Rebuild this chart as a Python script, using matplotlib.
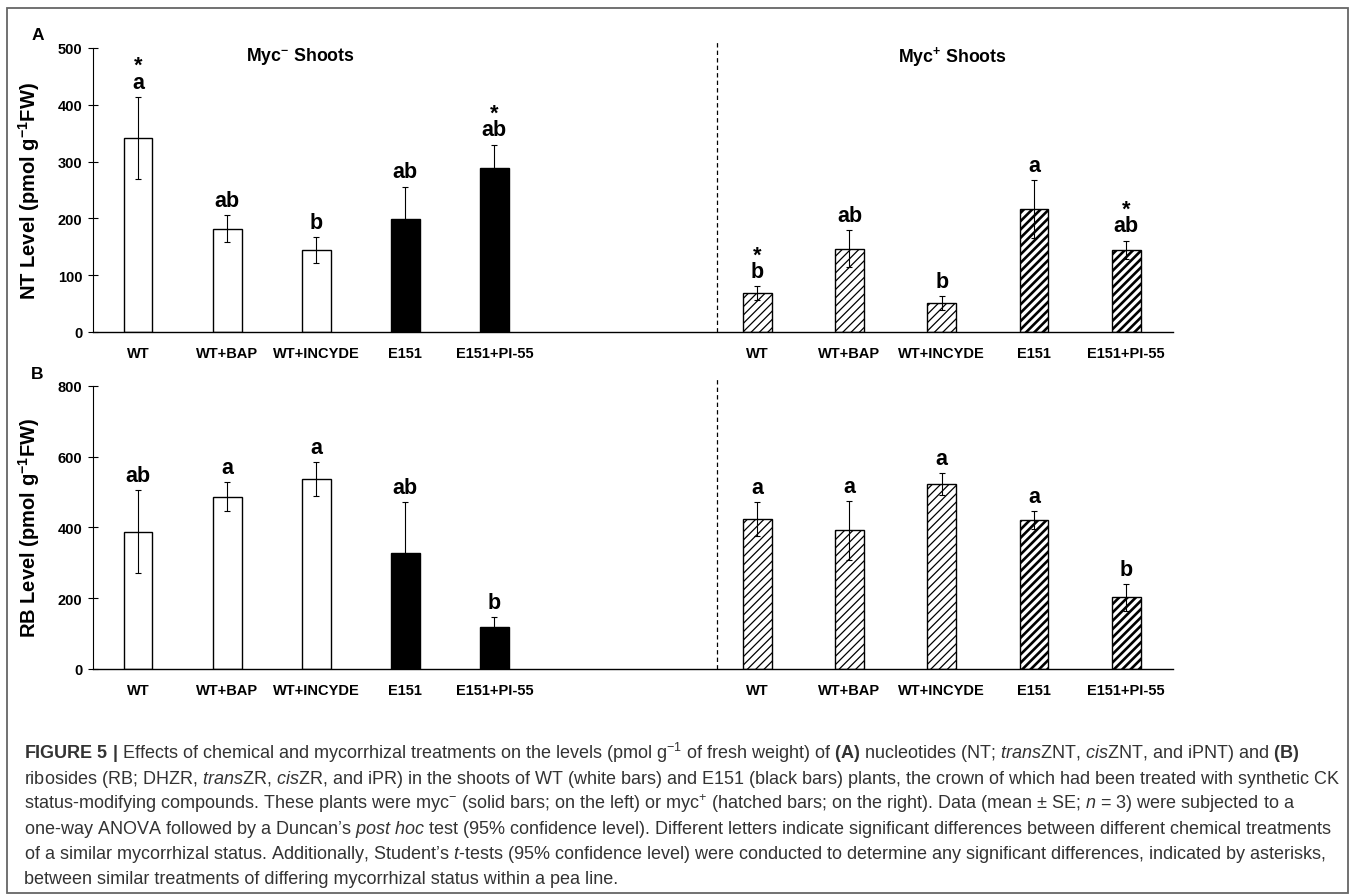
import numpy as np
import matplotlib
import matplotlib.pyplot as plt
from matplotlib.patches import Rectangle

plt.rcParams['font.family'] = ['Liberation Sans', 'DejaVu Sans']
plt.rcParams['mathtext.fontset'] = 'custom'
plt.rcParams['mathtext.rm'] = 'Liberation Sans'
plt.rcParams['mathtext.it'] = 'Liberation Sans:italic'
plt.rcParams['mathtext.bf'] = 'Liberation Sans:bold'

treatments = ["WT", "WT+BAP", "WT+INCYDE", "E151", "E151+PI-55"]

# NT level, myc- (left) and myc+ (right)
nt_minus = [342, 182, 144, 199, 288]
nt_minus_se = [72, 24, 23, 57, 42]
nt_plus = [69, 147, 51, 216, 145]
nt_plus_se = [12, 33, 12, 51, 16]
nt_minus_letters = ["a", "ab", "b", "ab", "ab"]
nt_plus_letters = ["b", "ab", "b", "a", "ab"]
nt_minus_star = [True, False, False, False, True]
nt_plus_star = [True, False, False, False, True]

# RB level
rb_minus = [388, 486, 537, 327, 120]
rb_minus_se = [118, 41, 48, 145, 27]
rb_plus = [423, 392, 523, 421, 202]
rb_plus_se = [48, 83, 31, 25, 38]
rb_minus_letters = ["ab", "a", "a", "ab", "b"]
rb_plus_letters = ["a", "a", "a", "a", "b"]

W, H = 1355, 895
fig = plt.figure(figsize=(W / 100, H / 100), dpi=100)

x_left = np.arange(5) * 0.99
x_right = 6.88 + np.arange(5) * 1.025
x_div = 6.43
bw = 0.32


def add_ax(top_px, bot_px):
    return fig.add_axes([93 / W, 1 - bot_px / H, 1080 / W, (bot_px - top_px) / H])


def draw_panel(ax, lo, lo_se, hi, hi_se, lo_let, hi_let, lo_star, hi_star, ymax, step, ylabel):
    # myc- bars: white for WT, black for E151
    lo_colors = ["white", "white", "white", "black", "black"]
    ax.bar(x_left, lo, bw, color=lo_colors, edgecolor="black", linewidth=1.0, zorder=2)
    hb = ax.bar(x_right, hi, bw, color="white", edgecolor="black", linewidth=1.0,
                hatch="////", zorder=2)
    for i, p in enumerate(hb.patches):
        if hasattr(p, "set_hatch_linewidth"):
            p.set_hatch_linewidth(0.9 if i < 3 else 1.9)
    ax.errorbar(x_left, lo, yerr=lo_se, fmt="none", ecolor="black", elinewidth=0.8,
                capsize=2.5, capthick=0.8, zorder=3)
    ax.errorbar(x_right, hi, yerr=hi_se, fmt="none", ecolor="black", elinewidth=0.8,
                capsize=2.5, capthick=0.8, zorder=3)

    # significance letters, with an asterisk stacked above where marked
    for xs, vals, ses, lets, stars in [(x_left, lo, lo_se, lo_let, lo_star),
                                       (x_right, hi, hi_se, hi_let, hi_star)]:
        for x, v, s, l, st in zip(xs, vals, ses, lets, stars):
            txt = "*\n" + l if st else l
            ax.annotate(txt, (x, v + s), xytext=(0, 3), textcoords="offset points",
                        ha="center", va="bottom", fontsize=15.5, fontweight="bold",
                        linespacing=0.72, multialignment="center")

    ax.axvline(x_div, ymin=0, ymax=1.025, color="black", linewidth=0.9,
               linestyle=(0, (3.5, 2.5)), clip_on=False)

    ax.set_xlim(-0.5, 11.5)
    ax.set_ylim(0, ymax)
    ax.set_yticks(np.arange(0, ymax + 1, step))
    ax.set_xticks(np.concatenate([x_left, x_right]))
    ax.set_xticklabels(treatments * 2)
    for sp in ["top", "right"]:
        ax.spines[sp].set_visible(False)
    ax.spines["left"].set_linewidth(0.8)
    ax.spines["bottom"].set_linewidth(1.0)
    ax.tick_params(axis="x", length=0, pad=10)
    ax.tick_params(axis="y", direction="inout", length=6.5, width=0.8, pad=4.5)
    for t in ax.get_xticklabels() + ax.get_yticklabels():
        t.set_fontweight("bold")
        t.set_fontsize(10.5)
    ax.set_ylabel(ylabel, fontsize=14.5, fontweight="bold")
    ax.yaxis.set_label_coords(-0.047, 0.5)


ax1 = add_ax(49, 333)
draw_panel(ax1, nt_minus, nt_minus_se, nt_plus, nt_plus_se, nt_minus_letters, nt_plus_letters,
           nt_minus_star, nt_plus_star, 500, 100, r"NT Level (pmol g$^{\mathbf{-1}}$FW)")

ax2 = add_ax(386.7, 670)
draw_panel(ax2, rb_minus, rb_minus_se, rb_plus, rb_plus_se, rb_minus_letters, rb_plus_letters,
           [False] * 5, [False] * 5, 800, 200, r"RB Level (pmol g$^{\mathbf{-1}}$FW)")

fig.text(300 / W, 1 - 61 / H, r"Myc$^{\mathbf{-}}$ Shoots", ha="center", va="baseline",
         fontsize=12.8, fontweight="bold")
fig.text(952 / W, 1 - 62 / H, r"Myc$^{\mathbf{+}}$ Shoots", ha="center", va="baseline",
         fontsize=12.8, fontweight="bold")
fig.text(37.5 / W, 1 - 36 / H, "A", ha="center", va="center", fontsize=12.5,
         fontweight="bold")
fig.text(37.5 / W, 1 - 375 / H, "B", ha="center", va="center", fontsize=12.5,
         fontweight="bold")

caption = [
    r"$\mathbf{FIGURE\ 5\ |}$ Effects of chemical and mycorrhizal treatments on the levels (pmol g$^{-1}$ of fresh weight) of $\mathbf{(A)}$ nucleotides (NT; $\mathit{trans}$ZNT, $\mathit{cis}$ZNT, and iPNT) and $\mathbf{(B)}$",
    r"ribosides (RB; DHZR, $\mathit{trans}$ZR, $\mathit{cis}$ZR, and iPR) in the shoots of WT (white bars) and E151 (black bars) plants, the crown of which had been treated with synthetic CK",
    r"status-modifying compounds. These plants were myc$^{-}$ (solid bars; on the left) or myc$^{+}$ (hatched bars; on the right). Data (mean ± SE; $\mathit{n}$ = 3) were subjected to a",
    r"one-way ANOVA followed by a Duncan’s $\mathit{post\ hoc}$ test (95% confidence level). Different letters indicate significant differences between different chemical treatments",
    r"of a similar mycorrhizal status. Additionally, Student’s $\mathit{t}$-tests (95% confidence level) were conducted to determine any significant differences, indicated by asterisks,",
    "between similar treatments of differing mycorrhizal status within a pea line.",
]
for i, line in enumerate(caption):
    fig.text(24 / W, 1 - (759 + 25 * i) / H, line, ha="left", va="baseline",
             fontsize=12.95, color="#333333")

fig.patches.append(Rectangle((7 / W, 1 - 894 / H), 1341 / W, 885 / H, transform=fig.transFigure,
                             fill=False, edgecolor="#666666", linewidth=1.3))

fig.savefig("out.png", dpi=100)
